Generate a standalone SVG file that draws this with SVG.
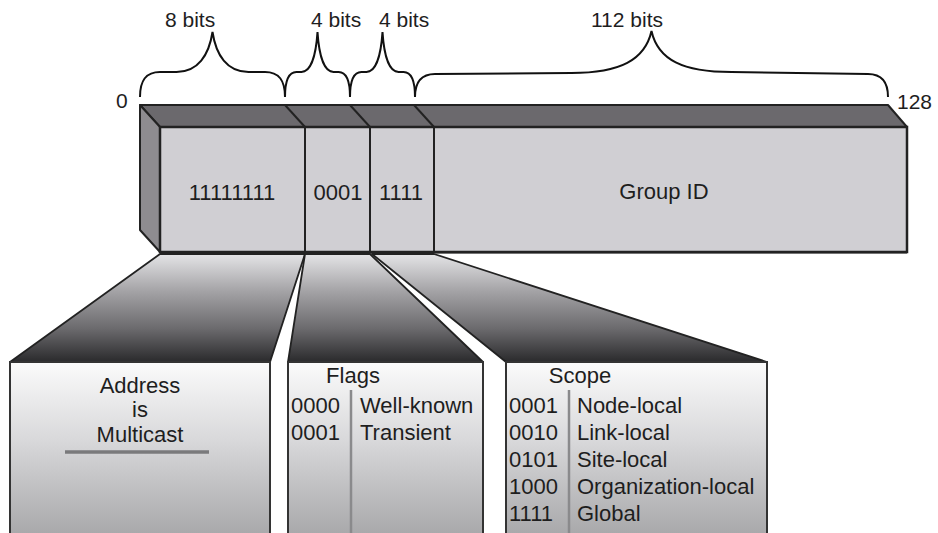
<svg xmlns="http://www.w3.org/2000/svg" width="938" height="533" viewBox="0 0 938 533">
<defs>
<linearGradient id="trap" x1="0" y1="253" x2="0" y2="362" gradientUnits="userSpaceOnUse">
<stop offset="0" stop-color="#e6e6e8"/>
<stop offset="0.35" stop-color="#a4a3a6"/>
<stop offset="0.7" stop-color="#6a696c"/>
<stop offset="1" stop-color="#2a2a2c"/>
</linearGradient>
<linearGradient id="front" x1="0" y1="362" x2="0" y2="533" gradientUnits="userSpaceOnUse">
<stop offset="0" stop-color="#fbfbfb"/>
<stop offset="0.45" stop-color="#d9d9db"/>
<stop offset="1" stop-color="#a9a9ab"/>
</linearGradient>
<style>
text{font-family:"Liberation Sans",Arial,sans-serif;fill:#1e1e1e}
.lbl{font-size:21px}
.big{font-size:22px}
.brace{fill:none;stroke:#111;stroke-width:2}
.edge{stroke:#222;stroke-width:2;stroke-linejoin:round}
.trap{fill:url(#trap);stroke:#222;stroke-width:1.8;stroke-linejoin:round}
.box{fill:url(#front);stroke:#333;stroke-width:2}
.rule{stroke:#8a8a8c;stroke-width:2.5}
.mid{text-anchor:middle}
</style>
</defs>

<g id="braces">
<path class="brace" d="M140 97 C140 80 146 72 160 72 L176.5 72 C198 72 209 55 212.5 32 C216 55 227 72 248.5 72 L265 72 C279 72 285 80 285 97"/>
<path class="brace" d="M285 97 C285 80 289 72 296.4 72 L301.5 72 C311 72 316 55 317.5 32 C319 55 324 72 333.5 72 L338.6 72 C346 72 350 80 350 97"/>
<path class="brace" d="M350 97 C350 80 354 72 361.4 72 L366.5 72 C376 72 381 55 382.5 32 C384 55 389 72 398.5 72 L403.6 72 C411 72 415 80 415 97"/>
<path class="brace" d="M415 97 C415 82 421 74 435 74 L571.5 73 C620 73 645 60 651.5 31 C658 60 683 72 731.5 72 L868 74 C882 74 888 82 888 97"/>
<text class="lbl" x="165" y="27">8 bits</text>
<text class="lbl" x="311" y="27">4 bits</text>
<text class="lbl" x="379" y="27">4 bits</text>
<text class="lbl" x="591" y="27">112 bits</text>
<text class="lbl" x="116" y="108">0</text>
<text class="lbl" x="897" y="109">128</text>
</g>

<g id="address">
<polygon points="140,105 888,105 907,127 160,127" fill="#6b696d" class="edge"/>
<polygon points="140,105 160,127 160,252 140,230" fill="#8e8c90" class="edge"/>
<rect x="160" y="127" width="747" height="125" fill="#d0cfd3" stroke="#222" stroke-width="2.5"/>
<line class="edge" x1="160" y1="252.5" x2="907" y2="252.5" stroke-width="3.5"/>
<line class="edge" x1="285" y1="105" x2="305" y2="127"/>
<line class="edge" x1="350" y1="105" x2="370" y2="127"/>
<line class="edge" x1="414" y1="105" x2="434" y2="127"/>
<line class="edge" x1="305" y1="127" x2="305" y2="252"/>
<line class="edge" x1="370" y1="127" x2="370" y2="252"/>
<line class="edge" x1="434" y1="127" x2="434" y2="252"/>
<text class="big mid" x="232" y="200">11111111</text>
<text class="big mid" x="338" y="200">0001</text>
<text class="big mid" x="401" y="200">1111</text>
<text class="big mid" x="664" y="199">Group ID</text>
</g>

<g id="prefix-panel">
<polygon class="trap" points="160,254 305,254 270,362 10,362"/>
<rect class="box" x="10" y="362" width="260" height="180"/>
<text class="big mid" x="140" y="393">Address</text>
<text class="big mid" x="140" y="417">is</text>
<text class="big mid" x="140" y="442">Multicast</text>
<line x1="65" y1="452" x2="209" y2="452" stroke="#7a7a7c" stroke-width="3.5"/>
</g>

<g id="flags-panel">
<polygon class="trap" points="305,254 370,254 483,362 288,362"/>
<rect class="box" x="288" y="362" width="195" height="180"/>
<line class="rule" x1="351" y1="390" x2="351" y2="533"/>
<text class="big mid" x="353" y="383">Flags</text>
<text class="big" x="291" y="413">0000</text>
<text class="big" x="360" y="413">Well-known</text>
<text class="big" x="291" y="440">0001</text>
<text class="big" x="360" y="440">Transient</text>
</g>

<g id="scope-panel">
<polygon class="trap" points="372,254 434,254 767,362 506,362"/>
<rect class="box" x="506" y="362" width="261" height="180"/>
<line class="rule" x1="569" y1="390" x2="569" y2="533"/>
<text class="big mid" x="580" y="383">Scope</text>
<text class="big" x="509" y="413">0001</text>
<text class="big" x="577" y="413">Node-local</text>
<text class="big" x="509" y="440">0010</text>
<text class="big" x="577" y="440">Link-local</text>
<text class="big" x="509" y="467">0101</text>
<text class="big" x="577" y="467">Site-local</text>
<text class="big" x="509" y="494">1000</text>
<text class="big" x="577" y="494">Organization-local</text>
<text class="big" x="509" y="521">1111</text>
<text class="big" x="577" y="521">Global</text>
</g>
</svg>
